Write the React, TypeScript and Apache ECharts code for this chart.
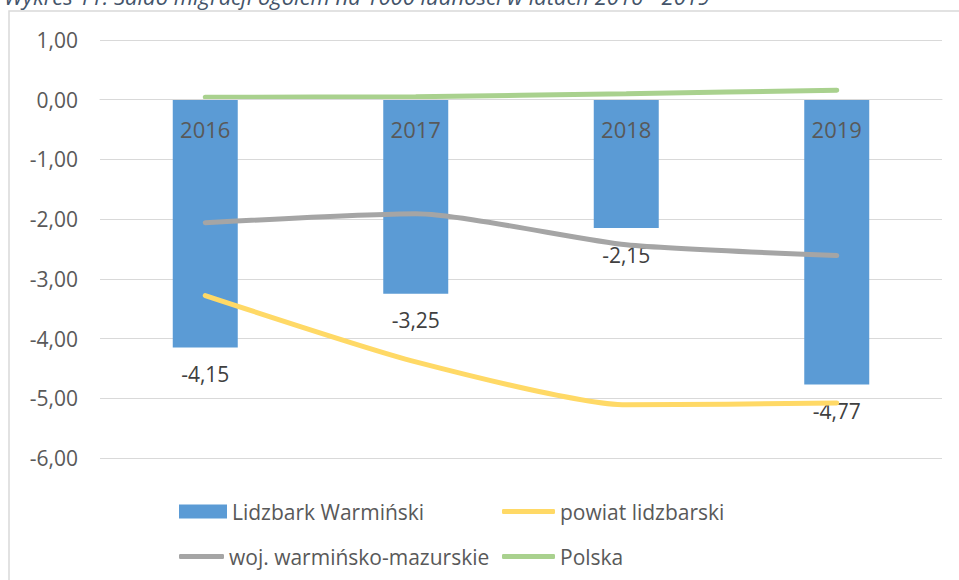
import React, { useEffect, useRef } from "react";
import * as echarts from "echarts";

const years = ["2016", "2017", "2018", "2019"];
const lidzbarkWarminski = [-4.15, -3.25, -2.15, -4.77];
const powiatLidzbarski = [-3.28, -4.39, -5.11, -5.08];
const wojWarminskoMazurskie = [-2.06, -1.91, -2.43, -2.61];
const polska = [0.04, 0.05, 0.1, 0.16];
const yMin = -6;
const yMax = 1;
const yStep = 1;

const FONT = "Open Sans";
const fmt = (v: number) => v.toFixed(2).replace(".", ",");

const GRID_TOP = 40;
const GRID_BOTTOM = 122;
const HEIGHT = 580;

export default function App() {
  const ref = useRef<HTMLDivElement>(null);
  useEffect(() => {
    if (!ref.current) return;
    const chart = echarts.init(ref.current, null, { renderer: "svg" });
    const legendText = { fontFamily: FONT, fontSize: 21, color: "#595959" };
    const plotH = HEIGHT - GRID_TOP - GRID_BOTTOM;
    const zeroOffset = -((0 - yMin) / (yMax - yMin)) * plotH;
    chart.setOption({
      animation: false,
      textStyle: { fontFamily: FONT },
      graphic: [
        {
          type: "rect",
          shape: { x: 9, y: 11, width: 1000, height: 700 },
          style: { fill: "none", stroke: "#D9D9D9", lineWidth: 1.5 },
          silent: true,
        },
        {
          type: "text",
          x: 4,
          y: 7,
          style: {
            text: "Wykres 11. Saldo migracji ogółem na 1000 ludności w latach 2016 - 2019",
            fontFamily: FONT,
            fontStyle: "italic",
            fontSize: 22,
            fill: "#44546A",
            textVerticalAlign: "bottom",
          },
        },
      ],
      grid: { left: 100, right: 17, top: GRID_TOP, bottom: GRID_BOTTOM },
      legend: [
        {
          data: ["Lidzbark Warmiński"],
          left: 174,
          top: 496,
          icon: "rect",
          itemWidth: 48,
          itemHeight: 14,
          textStyle: legendText,
        },
        {
          data: ["powiat lidzbarski"],
          left: 497,
          top: 496,
          icon: "roundRect",
          itemWidth: 53,
          itemHeight: 5,
          textStyle: legendText,
        },
        {
          data: ["woj. warmińsko-mazurskie"],
          left: 174,
          top: 541,
          icon: "roundRect",
          itemWidth: 45,
          itemHeight: 5,
          textStyle: legendText,
        },
        {
          data: ["Polska"],
          left: 497,
          top: 541,
          icon: "roundRect",
          itemWidth: 53,
          itemHeight: 5,
          textStyle: legendText,
        },
      ],
      xAxis: {
        type: "category",
        data: years,
        z: 10,
        offset: zeroOffset,
        axisLine: { show: true, onZero: false, lineStyle: { color: "#D9D9D9" } },
        axisTick: { show: false },
        axisLabel: { margin: 18, fontSize: 22, color: "#595959", fontFamily: FONT },
      },
      yAxis: {
        type: "value",
        min: yMin,
        max: yMax,
        interval: yStep,
        axisLine: { show: false },
        axisTick: { show: false },
        axisLabel: {
          margin: 22,
          fontSize: 21,
          color: "#595959",
          fontFamily: FONT,
          formatter: (v: number) => fmt(v),
        },
        splitLine: { lineStyle: { color: "#D9D9D9", width: 1 } },
      },
      series: [
        {
          name: "Lidzbark Warmiński",
          type: "bar",
          data: lidzbarkWarminski,
          barWidth: 65,
          itemStyle: { color: "#5B9BD5" },
          label: {
            show: true,
            position: "bottom",
            distance: 16,
            fontSize: 21,
            color: "#404040",
            fontFamily: FONT,
            formatter: (p: any) => fmt(p.value),
          },
        },
        {
          name: "powiat lidzbarski",
          type: "line",
          data: powiatLidzbarski,
          smooth: 0.2,
          symbol: "none",
          itemStyle: { color: "#FFD966" },
          lineStyle: { color: "#FFD966", width: 5, cap: "round" },
        },
        {
          name: "woj. warmińsko-mazurskie",
          type: "line",
          data: wojWarminskoMazurskie,
          smooth: 0.2,
          symbol: "none",
          itemStyle: { color: "#A5A5A5" },
          lineStyle: { color: "#A5A5A5", width: 5, cap: "round" },
        },
        {
          name: "Polska",
          type: "line",
          data: polska,
          smooth: 0.2,
          symbol: "none",
          itemStyle: { color: "#A9D18E" },
          lineStyle: { color: "#A9D18E", width: 5, cap: "round" },
        },
      ],
    });
    return () => chart.dispose();
  }, []);
  return (
    <div
      ref={ref}
      style={{ position: "fixed", left: 0, top: 0, width: 959, height: 580, background: "#fff" }}
    />
  );
}
